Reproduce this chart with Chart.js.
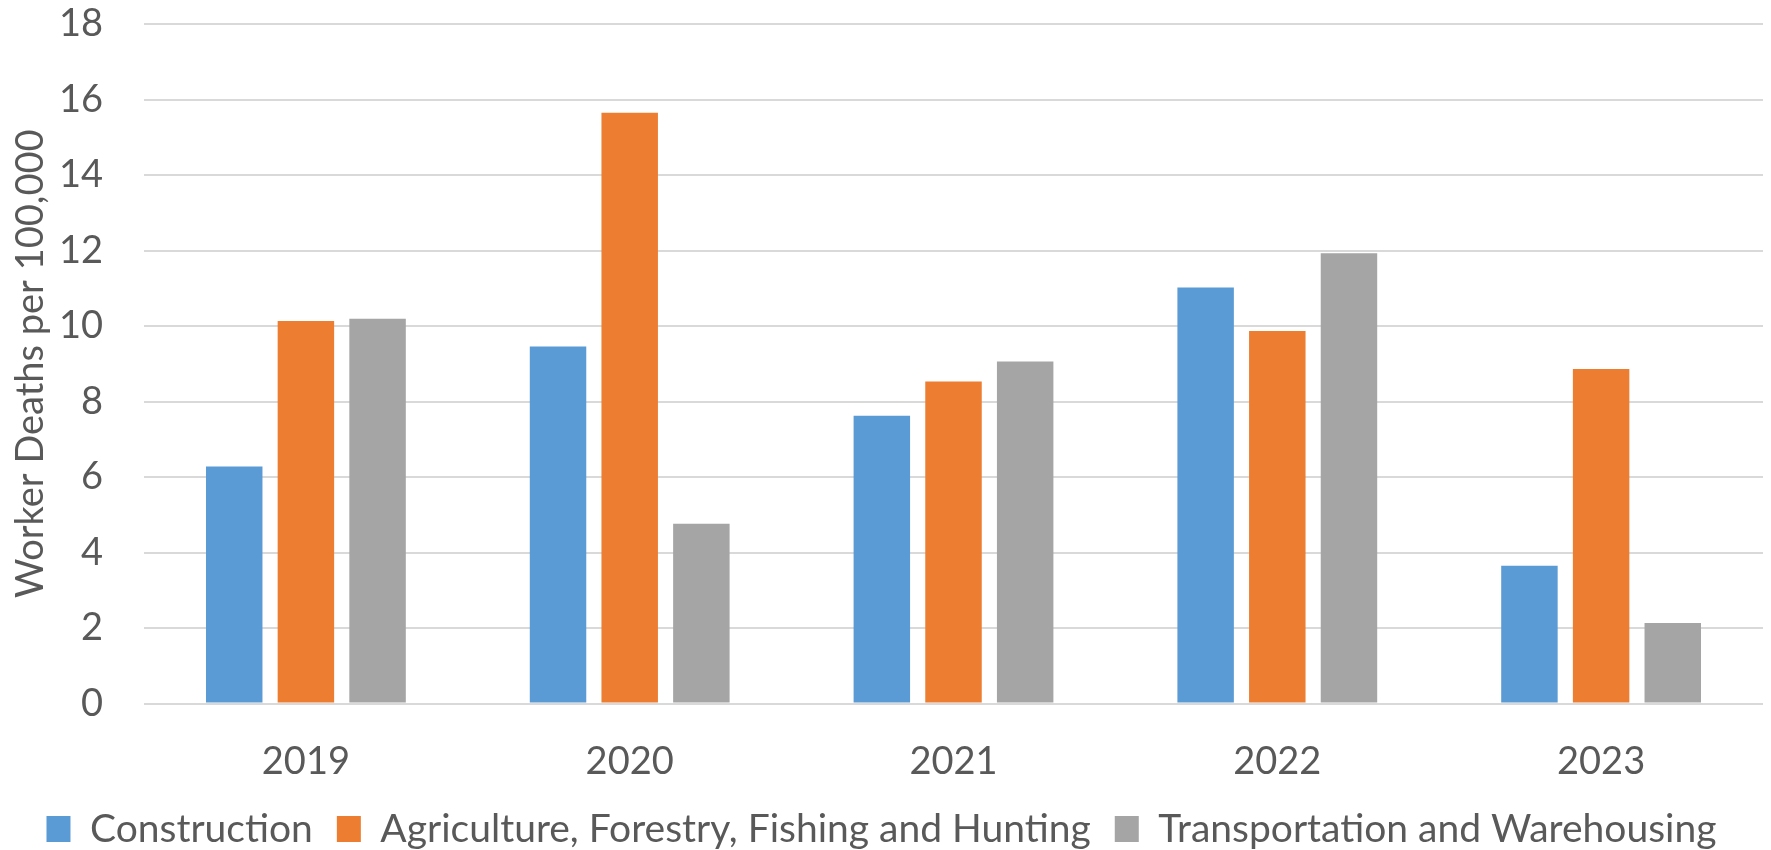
<!DOCTYPE html>
<html lang="en">
<head>
<meta charset="UTF-8">
<title>Worker Deaths per 100,000</title>
<script src="https://cdn.jsdelivr.net/npm/chart.js"></script>
<style>
  html, body { margin: 0; padding: 0; background: #ffffff; }
  #grafico { display: block; }
</style>
</head>
<body>
<canvas id="grafico" width="1771" height="850"></canvas>
<script>
// dados
const anos = ["2019", "2020", "2021", "2022", "2023"];
const construcao = [6.28, 9.46, 7.62, 11.02, 3.65];
const agricultura = [10.13, 15.65, 8.53, 9.87, 8.86];
const transporte = [10.19, 4.76, 9.06, 11.93, 2.13];
const tituloY = "Worker Deaths per 100,000";

const corTexto = "#595959";
const fonte = "Lato";

const ctx = document.getElementById("grafico").getContext("2d");

new Chart(ctx, {
  type: "bar",
  data: {
    labels: anos,
    datasets: [
      { label: "Construction", data: construcao, backgroundColor: "#5B9BD5" },
      { label: "Agriculture, Forestry, Fishing and Hunting", data: agricultura, backgroundColor: "#ED7D31" },
      { label: "Transportation and Warehousing", data: transporte, backgroundColor: "#A5A5A5" }
    ]
  },
  options: {
    responsive: false,
    animation: false,
    devicePixelRatio: 1,
    layout: { padding: { top: 24, right: 8, left: 0, bottom: -8.5 } },
    datasets: {
      bar: { categoryPercentage: 0.664, barPercentage: 0.788 }
    },
    plugins: {
      tooltip: { enabled: false },
      legend: {
        position: "bottom",
        labels: {
          color: corTexto,
          font: { family: fonte, size: 39 },
          boxWidth: 24,
          boxHeight: 26,
          padding: 24
        }
      }
    },
    scales: {
      x: {
        grid: { display: false },
        border: { display: false },
        ticks: {
          color: corTexto,
          font: { family: fonte, size: 38 },
          padding: 27.7
        },
        afterFit(axis) { axis.height = 82; }
      },
      y: {
        min: 0,
        max: 18,
        ticks: {
          stepSize: 2,
          color: corTexto,
          font: { family: fonte, size: 38 },
          padding: 0
        },
        // marcas invisiveis so para afastar os numeros do grafico
        grid: { color: "#D9D9D9", lineWidth: 2, drawTicks: true, tickLength: 41, tickColor: "rgba(0,0,0,0)" },
        border: { display: false },
        title: {
          display: true,
          text: tituloY,
          color: corTexto,
          font: { family: fonte, size: 38 },
          padding: { top: 8, bottom: 0 }
        },
        afterFit(axis) { axis.width = 144; }
      }
    }
  }
});
</script>
</body>
</html>
